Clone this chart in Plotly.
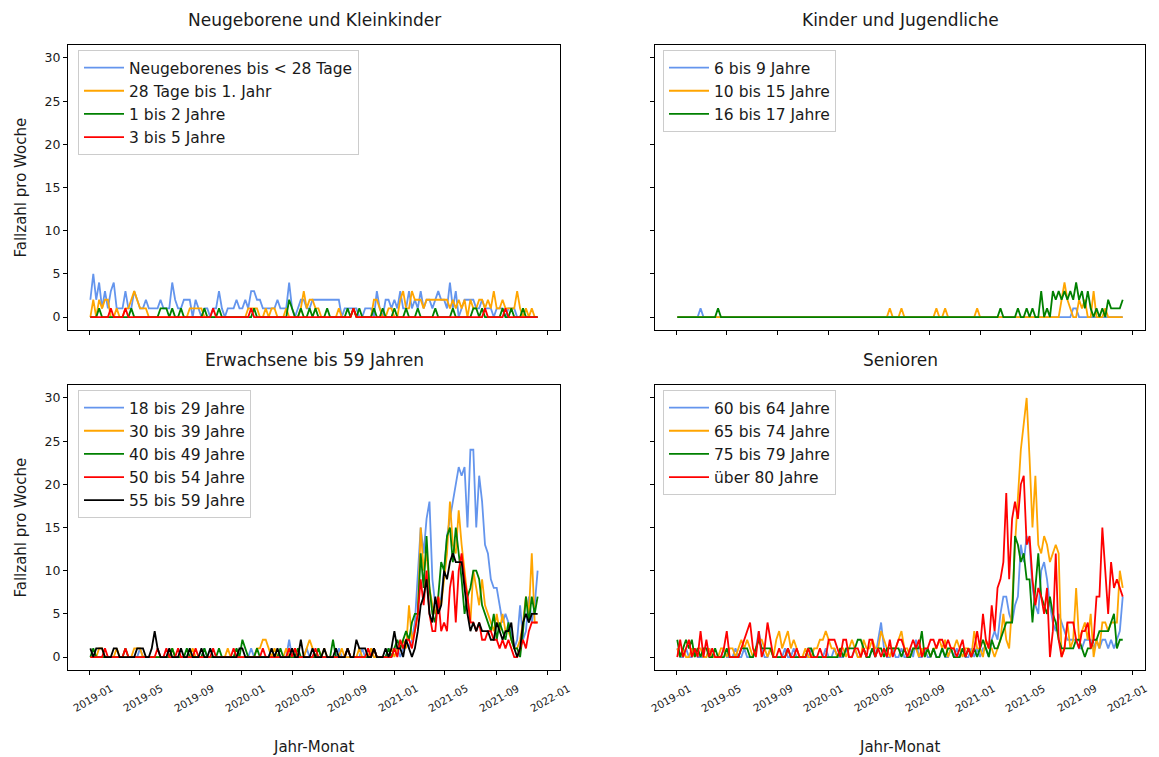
import pandas as pd
import plotly.graph_objects as go

# ---------------- data ----------------
weeks = pd.date_range("2019-01-03", periods=154, freq="7D")

tick_dates = ["2019-01-01", "2019-05-01", "2019-09-01", "2020-01-01", "2020-05-01",
              "2020-09-01", "2021-01-01", "2021-05-01", "2021-09-01", "2022-01-01"]
tick_labels = ["2019-01", "2019-05", "2019-09", "2020-01", "2020-05",
               "2020-09", "2021-01", "2021-05", "2021-09", "2022-01"]
y_ticks = [0, 5, 10, 15, 20, 25, 30]

# Neugeborene und Kleinkinder
neu_lt28 = [2, 5, 2, 4, 1, 3, 1, 3, 4, 1,
            1, 1, 3, 1, 1, 3, 2, 1, 1, 2,
            1, 1, 1, 1, 2, 1, 1, 1, 4, 2,
            1, 1, 2, 2, 2, 0, 2, 1, 0, 1,
            1, 0, 1, 1, 3, 1, 0, 1, 1, 1,
            2, 1, 1, 2, 1, 3, 3, 2, 2, 1,
            1, 1, 1, 1, 2, 1, 1, 1, 4, 1,
            0, 1, 2, 2, 1, 1, 2, 2, 2, 2,
            2, 2, 2, 2, 2, 2, 0, 1, 1, 1,
            1, 1, 0, 0, 1, 1, 1, 0, 3, 1,
            0, 2, 2, 1, 2, 1, 3, 1, 1, 3,
            1, 2, 1, 3, 1, 2, 2, 1, 2, 3,
            2, 2, 1, 4, 1, 3, 0, 1, 2, 2,
            2, 2, 1, 1, 2, 1, 1, 1, 0, 1,
            1, 1, 0, 1, 1, 1, 0, 0, 0, 0,
            0, 0, 0, 0]
neu_28t_1j = [0, 2, 0, 2, 1, 2, 2, 0, 0, 1,
              0, 0, 1, 1, 2, 3, 2, 1, 1, 1,
              0, 0, 0, 0, 0, 0, 0, 0, 0, 0,
              0, 0, 0, 0, 1, 1, 1, 1, 1, 0,
              0, 0, 0, 0, 0, 0, 0, 0, 0, 0,
              0, 0, 0, 0, 1, 1, 1, 1, 0, 0,
              1, 0, 1, 1, 0, 0, 0, 1, 0, 0,
              0, 0, 1, 3, 1, 2, 2, 1, 1, 0,
              0, 0, 0, 0, 0, 1, 0, 0, 0, 0,
              1, 0, 0, 0, 0, 0, 0, 2, 2, 1,
              0, 0, 1, 1, 0, 0, 2, 3, 1, 1,
              3, 2, 2, 2, 1, 2, 2, 2, 2, 2,
              2, 2, 2, 1, 2, 1, 2, 1, 2, 0,
              2, 1, 1, 2, 2, 1, 2, 1, 3, 1,
              1, 2, 1, 1, 1, 1, 3, 1, 0, 1,
              0, 1, 0, 0]
neu_1_2 = [0, 0, 0, 1, 0, 0, 0, 0, 0, 0,
           0, 0, 0, 0, 1, 0, 0, 0, 0, 0,
           0, 0, 0, 0, 1, 1, 1, 0, 1, 0,
           0, 1, 0, 0, 0, 0, 0, 0, 0, 1,
           0, 0, 0, 0, 1, 0, 0, 0, 0, 0,
           0, 0, 0, 0, 0, 0, 1, 0, 0, 0,
           0, 0, 0, 0, 0, 0, 0, 0, 2, 1,
           0, 0, 1, 0, 0, 1, 0, 1, 0, 0,
           0, 1, 0, 0, 0, 0, 0, 0, 1, 0,
           1, 0, 1, 0, 0, 0, 0, 1, 0, 0,
           1, 0, 0, 0, 1, 0, 0, 0, 1, 0,
           0, 0, 1, 0, 0, 0, 0, 0, 1, 0,
           0, 0, 0, 0, 1, 0, 0, 0, 0, 0,
           0, 1, 1, 0, 1, 0, 0, 0, 0, 0,
           0, 1, 0, 0, 1, 0, 0, 0, 1, 0,
           0, 0, 0, 0]
neu_3_5 = [0, 0, 0, 0, 0, 0, 0, 1, 0, 0,
           0, 0, 1, 0, 0, 0, 0, 0, 0, 0,
           0, 0, 0, 0, 0, 0, 0, 0, 0, 0,
           0, 0, 0, 0, 0, 0, 0, 0, 0, 0,
           0, 0, 1, 0, 0, 0, 0, 0, 0, 0,
           0, 0, 0, 0, 0, 1, 0, 0, 0, 0,
           0, 0, 0, 0, 0, 0, 0, 0, 0, 0,
           0, 0, 0, 0, 0, 0, 0, 0, 0, 0,
           0, 0, 0, 0, 0, 0, 0, 0, 0, 0,
           1, 0, 0, 0, 0, 0, 0, 0, 0, 0,
           0, 0, 0, 0, 0, 0, 0, 0, 0, 0,
           0, 0, 0, 0, 0, 0, 0, 0, 0, 0,
           0, 0, 0, 0, 0, 0, 0, 0, 0, 0,
           0, 0, 0, 0, 0, 1, 0, 0, 0, 0,
           0, 0, 1, 0, 0, 0, 0, 0, 0, 0,
           0, 0, 0, 0]

# Kinder und Jugendliche
kin_6_9 = [0, 0, 0, 0, 0, 0, 0, 0, 1, 0,
           0, 0, 0, 0, 0, 0, 0, 0, 0, 0,
           0, 0, 0, 0, 0, 0, 0, 0, 0, 0,
           0, 0, 0, 0, 0, 0, 0, 0, 0, 0,
           0, 0, 0, 0, 0, 0, 0, 0, 0, 0,
           0, 0, 0, 0, 0, 0, 0, 0, 0, 0,
           0, 0, 0, 0, 0, 0, 0, 0, 0, 0,
           0, 0, 0, 0, 0, 0, 0, 0, 0, 0,
           0, 0, 0, 0, 0, 0, 0, 0, 0, 0,
           0, 0, 0, 0, 0, 0, 0, 0, 0, 0,
           0, 0, 0, 0, 0, 0, 0, 0, 0, 0,
           0, 0, 0, 0, 0, 0, 0, 0, 0, 0,
           0, 0, 0, 0, 0, 0, 0, 0, 0, 0,
           0, 0, 0, 0, 0, 0, 1, 1, 0, 0,
           0, 0, 0, 0, 0, 0, 0, 0, 0, 0,
           0, 0, 0, 0]
kin_10_15 = [0, 0, 0, 0, 0, 0, 0, 0, 0, 0,
             0, 0, 0, 0, 0, 0, 0, 0, 0, 0,
             0, 0, 0, 0, 0, 0, 0, 0, 0, 0,
             0, 0, 0, 0, 0, 0, 0, 0, 0, 0,
             0, 0, 0, 0, 0, 0, 0, 0, 0, 0,
             0, 0, 0, 0, 0, 0, 0, 0, 0, 0,
             0, 0, 0, 0, 0, 0, 0, 0, 0, 0,
             0, 0, 0, 1, 0, 0, 0, 1, 0, 0,
             0, 0, 0, 0, 0, 0, 0, 0, 0, 1,
             0, 0, 1, 0, 0, 0, 0, 0, 0, 0,
             0, 0, 0, 1, 0, 0, 0, 0, 0, 0,
             0, 0, 0, 0, 0, 0, 0, 0, 0, 0,
             0, 0, 0, 0, 0, 0, 0, 0, 0, 0,
             0, 0, 2, 4, 2, 1, 0, 0, 2, 1,
             2, 0, 0, 3, 0, 0, 0, 1, 0, 0,
             0, 0, 0, 0]
kin_16_17 = [0, 0, 0, 0, 0, 0, 0, 0, 0, 0,
             0, 0, 0, 0, 1, 0, 0, 0, 0, 0,
             0, 0, 0, 0, 0, 0, 0, 0, 0, 0,
             0, 0, 0, 0, 0, 0, 0, 0, 0, 0,
             0, 0, 0, 0, 0, 0, 0, 0, 0, 0,
             0, 0, 0, 0, 0, 0, 0, 0, 0, 0,
             0, 0, 0, 0, 0, 0, 0, 0, 0, 0,
             0, 0, 0, 0, 0, 0, 0, 0, 0, 0,
             0, 0, 0, 0, 0, 0, 0, 0, 0, 0,
             0, 0, 0, 0, 0, 0, 0, 0, 0, 0,
             0, 0, 0, 0, 0, 0, 0, 0, 0, 0,
             0, 1, 0, 0, 0, 0, 0, 1, 0, 0,
             1, 0, 1, 0, 0, 3, 0, 1, 0, 3,
             2, 3, 2, 3, 2, 3, 2, 4, 2, 3,
             1, 3, 1, 0, 1, 0, 1, 0, 2, 1,
             1, 1, 1, 2]

# Erwachsene bis 59 Jahren (a: 2019 - Nov 2020, b: Dez 2020 - 2021)
erw_18_29_a = [0, 0, 0, 0, 0, 0, 0, 0, 0, 0,
               0, 0, 0, 0, 0, 0, 0, 1, 0, 0,
               0, 0, 0, 0, 0, 0, 0, 0, 0, 0,
               0, 0, 0, 0, 0, 0, 0, 0, 0, 1,
               0, 0, 0, 0, 0, 0, 0, 0, 0, 0,
               0, 0, 0, 0, 0, 1, 0, 0, 0, 0,
               0, 0, 1, 0, 0, 0, 0, 0, 2, 0,
               0, 0, 0, 0, 1, 0, 0, 0, 0, 0,
               0, 0, 0, 0, 0, 1, 0, 0, 0, 0,
               0, 0, 0, 1, 0, 0, 0, 1, 0, 0,
               0]
erw_18_29_b = [0, 1, 0, 1, 1, 0, 1, 2, 1, 2,
               4, 10, 15, 12, 16, 18, 9, 6, 5, 7,
               10, 14, 16, 18, 20, 22, 21, 22, 15, 24,
               24, 15, 21, 18, 13, 12, 9, 8, 8, 6,
               4, 5, 4, 3, 1, 2, 6, 2, 3, 7,
               4, 6, 10]
erw_30_39_a = [0, 0, 0, 1, 1, 0, 0, 0, 0, 1,
               0, 0, 0, 0, 0, 1, 1, 1, 0, 0,
               0, 0, 0, 0, 0, 0, 0, 0, 1, 0,
               0, 0, 0, 0, 0, 1, 0, 0, 0, 0,
               0, 0, 0, 0, 0, 0, 0, 1, 0, 0,
               0, 0, 0, 0, 0, 0, 0, 1, 1, 2,
               2, 1, 0, 1, 0, 0, 0, 1, 0, 0,
               1, 0, 0, 0, 1, 2, 1, 0, 1, 0,
               1, 0, 0, 0, 0, 0, 1, 0, 0, 0,
               0, 0, 1, 0, 0, 0, 1, 0, 0, 0,
               0]
erw_30_39_b = [0, 0, 1, 0, 1, 1, 2, 1, 6, 2,
               3, 5, 15, 10, 12, 8, 6, 5, 7, 6,
               9, 12, 18, 13, 12, 17, 13, 10, 7, 4,
               10, 8, 6, 9, 6, 5, 4, 3, 5, 3,
               5, 3, 3, 2, 1, 1, 2, 4, 7, 5,
               12, 4, 4]
erw_40_49_a = [0, 1, 0, 0, 0, 0, 0, 0, 0, 0,
               0, 0, 1, 0, 0, 0, 0, 0, 0, 0,
               0, 0, 0, 0, 0, 0, 0, 0, 1, 0,
               0, 0, 0, 1, 0, 0, 0, 0, 0, 1,
               0, 0, 0, 0, 1, 0, 0, 0, 0, 0,
               1, 0, 2, 1, 0, 0, 0, 1, 0, 0,
               0, 0, 0, 0, 0, 1, 0, 0, 0, 0,
               0, 1, 0, 0, 0, 0, 0, 0, 1, 0,
               0, 0, 0, 2, 0, 0, 0, 0, 1, 0,
               0, 0, 0, 0, 0, 0, 0, 1, 0, 0,
               0]
erw_40_49_b = [0, 1, 0, 1, 2, 1, 2, 3, 2, 4,
               5, 5, 12, 8, 14, 8, 5, 4, 7, 11,
               10, 14, 15, 11, 15, 12, 9, 5, 7, 8,
               10, 10, 9, 6, 5, 4, 3, 5, 2, 4,
               3, 2, 4, 2, 1, 1, 0, 3, 7, 4,
               7, 5, 7]
erw_50_54_a = [0, 0, 0, 0, 0, 1, 0, 0, 0, 0,
               0, 0, 1, 0, 0, 0, 0, 0, 0, 0,
               0, 0, 0, 1, 0, 0, 1, 0, 0, 0,
               1, 0, 0, 0, 0, 0, 1, 0, 0, 0,
               0, 0, 1, 0, 0, 0, 0, 0, 0, 1,
               0, 0, 0, 0, 0, 0, 0, 0, 0, 1,
               0, 0, 0, 0, 0, 0, 0, 0, 1, 0,
               1, 0, 0, 0, 0, 0, 0, 1, 0, 0,
               0, 0, 0, 0, 0, 0, 0, 0, 1, 0,
               0, 0, 0, 0, 0, 1, 0, 1, 0, 0,
               0]
erw_50_54_b = [0, 0, 0, 1, 0, 2, 1, 2, 2, 1,
               3, 5, 9, 6, 10, 5, 3, 3, 7, 3,
               4, 3, 8, 10, 4, 10, 12, 9, 7, 4,
               4, 3, 4, 2, 2, 3, 3, 2, 2, 1,
               2, 1, 2, 1, 0, 0, 1, 2, 1, 3,
               4, 4, 4]
erw_55_59_a = [1, 0, 1, 1, 1, 0, 0, 0, 1, 1,
               0, 0, 0, 0, 0, 0, 1, 1, 1, 0,
               0, 1, 3, 1, 0, 0, 0, 1, 0, 0,
               0, 1, 0, 0, 1, 0, 0, 0, 1, 0,
               0, 1, 0, 0, 0, 0, 0, 0, 0, 0,
               0, 1, 1, 0, 0, 0, 0, 0, 0, 0,
               0, 0, 1, 0, 1, 0, 0, 0, 0, 1,
               0, 0, 2, 0, 0, 0, 1, 0, 0, 0,
               1, 0, 0, 0, 1, 0, 0, 0, 1, 0,
               0, 2, 1, 1, 1, 0, 0, 1, 0, 0,
               0]
erw_55_59_b = [1, 0, 1, 3, 1, 1, 0, 2, 1, 0,
               1, 3, 6, 7, 9, 5, 4, 7, 5, 6,
               10, 9, 11, 12, 11, 11, 11, 8, 5, 3,
               4, 3, 4, 3, 3, 3, 2, 2, 4, 3,
               2, 3, 3, 4, 1, 0, 1, 4, 5, 4,
               5, 5, 5]

# Senioren (a: 2019 - Okt 2020, b: Nov 2020 - 2021)
sen_60_64_a = [1, 0, 0, 1, 0, 0, 1, 0, 0, 0,
               0, 1, 0, 0, 0, 0, 1, 0, 0, 0,
               1, 0, 0, 1, 0, 0, 0, 1, 3, 1,
               0, 0, 1, 0, 0, 0, 0, 1, 0, 0,
               1, 0, 0, 0, 0, 0, 1, 0, 0, 0,
               0, 1, 0, 0, 1, 0, 0, 0, 1, 0,
               0, 1, 0, 0, 1, 0, 0, 1, 0, 2,
               4, 1, 0, 0, 1, 0, 0, 1, 0, 0,
               1, 0, 2, 0, 0, 1, 0, 0, 1, 0,
               0, 1, 0, 0, 1, 0, 1]
sen_60_64_b = [0, 1, 0, 0, 1, 0, 1, 0, 1, 1,
               0, 2, 3, 2, 5, 7, 7, 5, 4, 6,
               7, 13, 11, 14, 13, 8, 6, 5, 10, 11,
               9, 6, 4, 3, 5, 4, 3, 2, 2, 2,
               2, 1, 1, 2, 2, 2, 1, 2, 1, 2,
               2, 1, 2, 1, 2, 3, 7]
sen_65_74_a = [1, 0, 1, 0, 0, 1, 0, 1, 1, 0,
               0, 1, 0, 0, 0, 1, 1, 0, 1, 1,
               0, 1, 2, 1, 2, 1, 0, 1, 2, 2,
               1, 0, 1, 0, 2, 3, 1, 2, 3, 1,
               2, 1, 0, 0, 1, 0, 0, 1, 1, 2,
               2, 3, 2, 1, 1, 0, 1, 1, 0, 1,
               2, 1, 0, 0, 2, 1, 1, 2, 1, 1,
               3, 2, 1, 0, 1, 1, 2, 3, 1, 1,
               0, 1, 1, 0, 1, 0, 1, 0, 1, 1,
               2, 1, 2, 0, 1, 1, 2]
sen_65_74_b = [1, 0, 1, 1, 0, 3, 1, 1, 0, 2,
               1, 1, 0, 1, 2, 5, 2, 1, 6, 13,
               19, 24, 27, 30, 23, 15, 21, 13, 12, 14,
               13, 11, 12, 13, 12, 0, 1, 4, 1, 2,
               8, 2, 3, 4, 2, 5, 0, 2, 1, 4,
               4, 3, 4, 4, 4, 10, 8]
sen_75_79_a = [2, 0, 1, 2, 1, 2, 0, 1, 0, 1,
               1, 0, 0, 1, 0, 0, 0, 1, 0, 0,
               0, 0, 1, 1, 1, 0, 0, 1, 2, 1,
               1, 1, 1, 0, 0, 0, 0, 0, 1, 0,
               0, 0, 0, 0, 0, 1, 1, 0, 0, 0,
               0, 0, 0, 0, 0, 0, 1, 0, 1, 1,
               1, 1, 2, 2, 1, 0, 0, 1, 0, 1,
               1, 0, 1, 1, 1, 1, 1, 0, 1, 0,
               0, 1, 1, 1, 3, 0, 1, 0, 1, 0,
               0, 1, 0, 1, 1, 0, 0]
sen_75_79_b = [0, 1, 0, 1, 0, 1, 0, 1, 2, 1,
               0, 2, 1, 1, 2, 3, 4, 4, 4, 14,
               13, 11, 12, 9, 9, 4, 8, 12, 7, 6,
               5, 7, 5, 4, 2, 1, 1, 1, 1, 1,
               2, 2, 1, 0, 1, 1, 2, 2, 3, 3,
               3, 3, 4, 5, 1, 2, 2]
sen_ueber80_a = [0, 2, 0, 1, 2, 0, 1, 0, 3, 0,
                 2, 0, 1, 0, 0, 0, 1, 3, 0, 0,
                 0, 0, 1, 2, 3, 4, 1, 0, 3, 0,
                 1, 4, 2, 0, 0, 1, 0, 0, 1, 0,
                 0, 1, 0, 0, 0, 1, 0, 0, 0, 1,
                 0, 0, 2, 2, 2, 1, 0, 2, 2, 0,
                 0, 1, 1, 0, 1, 0, 2, 2, 0, 1,
                 0, 1, 0, 2, 0, 1, 2, 2, 1, 0,
                 1, 2, 1, 2, 0, 1, 1, 2, 2, 1,
                 2, 2, 1, 2, 1, 1, 0]
sen_ueber80_b = [1, 2, 0, 1, 0, 1, 3, 1, 5, 2,
                 1, 6, 3, 8, 9, 11, 19, 9, 16, 18,
                 16, 20, 21, 13, 14, 9, 6, 8, 7, 5,
                 8, 0, 3, 12, 2, 0, 1, 4, 4, 4,
                 2, 1, 3, 3, 4, 1, 2, 7, 7, 15,
                 10, 5, 11, 8, 9, 8, 7]

titles = ["Neugeborene und Kleinkinder", "Kinder und Jugendliche",
          "Erwachsene bis 59 Jahren", "Senioren"]

panels = [
    [("Neugeborenes bis < 28 Tage", neu_lt28, "cornflowerblue"),
     ("28 Tage bis 1. Jahr", neu_28t_1j, "orange"),
     ("1 bis 2 Jahre", neu_1_2, "green"),
     ("3 bis 5 Jahre", neu_3_5, "red")],
    [("6 bis 9 Jahre", kin_6_9, "cornflowerblue"),
     ("10 bis 15 Jahre", kin_10_15, "orange"),
     ("16 bis 17 Jahre", kin_16_17, "green")],
    [("18 bis 29 Jahre", erw_18_29_a + erw_18_29_b, "cornflowerblue"),
     ("30 bis 39 Jahre", erw_30_39_a + erw_30_39_b, "orange"),
     ("40 bis 49 Jahre", erw_40_49_a + erw_40_49_b, "green"),
     ("50 bis 54 Jahre", erw_50_54_a + erw_50_54_b, "red"),
     ("55 bis 59 Jahre", erw_55_59_a + erw_55_59_b, "black")],
    [("60 bis 64 Jahre", sen_60_64_a + sen_60_64_b, "cornflowerblue"),
     ("65 bis 74 Jahre", sen_65_74_a + sen_65_74_b, "orange"),
     ("75 bis 79 Jahre", sen_75_79_a + sen_75_79_b, "green"),
     ("über 80 Jahre", sen_ueber80_a + sen_ueber80_b, "red")],
]

for p in panels:
    for name, vals, _ in p:
        assert len(vals) == len(weeks), (name, len(vals))

# ---------------- figure ----------------
OFF = 8  # page body margin of the browser
W, H = 1159 - OFF, 757 - OFF  # figure fills the rest of the 1159x757 window
FONT = "DejaVu Sans"
TXT = "#1a1a1a"


def px(x):
    return (x - OFF) / W


def py(y):
    return 1 - (y - OFF) / H


xdom = [[px(68), px(560)], [px(655), px(1145)]]
ydom = [[py(330), py(45)], [py(670), py(385)]]

fig = go.Figure()
suffix = ["", "2", "3", "4"]
for k, p in enumerate(panels):
    for name, vals, color in p:
        fig.add_trace(go.Scatter(
            x=weeks, y=vals, mode="lines", name=name,
            line=dict(color=color, width=1.8),
            xaxis="x" + suffix[k], yaxis="y" + suffix[k],
            legend="legend" + suffix[k], legendgroup=name,
            hoverinfo="skip",
        ))

span = weeks[-1] - weeks[0]
xr = [weeks[0] - 0.05 * span, weeks[-1] + 0.05 * span]

layout = dict(
    width=W, height=H, template="none",
    margin=dict(l=0, r=0, t=0, b=0),
    paper_bgcolor="white", plot_bgcolor="white",
    font=dict(family=FONT, color=TXT, size=13),
    showlegend=True,
)

for k in range(4):
    col, row = k % 2, k // 2
    s = suffix[k]
    layout["xaxis" + s] = dict(
        domain=xdom[col], anchor="y" + s, type="date", range=xr,
        tickmode="array", tickvals=tick_dates, ticktext=tick_labels,
        showticklabels=False,
        ticks="outside", ticklen=4, tickwidth=1, tickcolor="black",
        showline=True, mirror=True, linecolor="black", linewidth=1,
        showgrid=False, zeroline=False, automargin=False,
    )
    layout["yaxis" + s] = dict(
        domain=ydom[row], anchor="x" + s, range=[-1.5, 31.5],
        tickmode="array", tickvals=y_ticks,
        showticklabels=(col == 0),
        tickfont=dict(size=12.5, family=FONT, color=TXT),
        ticks="outside", ticklen=4, tickwidth=1, tickcolor="black",
        showline=True, mirror=True, linecolor="black", linewidth=1,
        showgrid=False, zeroline=False, automargin=False,
    )
    lx = px(78) if col == 0 else px(663)
    ly = py(50) if row == 0 else py(390)
    layout["legend" + s] = dict(
        x=lx, y=ly, xanchor="left", yanchor="top",
        bgcolor="rgba(255,255,255,0.85)", bordercolor="#cccccc", borderwidth=1,
        font=dict(size=15.5, family=FONT, color=TXT),
        tracegroupgap=0, itemwidth=40,
        itemclick=False, itemdoubleclick=False,
    )

fig.update_layout(**layout)

ann = []
for k, t in enumerate(titles):
    col, row = k % 2, k // 2
    ann.append(dict(text=t, x=(xdom[col][0] + xdom[col][1]) / 2,
                    y=py(20) if row == 0 else py(360),
                    xref="paper", yref="paper", showarrow=False,
                    xanchor="center", yanchor="middle",
                    font=dict(size=17, family=FONT, color=TXT)))
for row in range(2):
    ann.append(dict(text="Fallzahl pro Woche", x=px(20),
                    y=(ydom[row][0] + ydom[row][1]) / 2,
                    xref="paper", yref="paper", showarrow=False, textangle=-90,
                    xanchor="center", yanchor="middle",
                    font=dict(size=15, family=FONT, color=TXT)))
for col in range(2):
    ann.append(dict(text="Jahr-Monat", x=(xdom[col][0] + xdom[col][1]) / 2,
                    y=py(747), xref="paper", yref="paper", showarrow=False,
                    xanchor="center", yanchor="middle",
                    font=dict(size=15, family=FONT, color=TXT)))
# rotated date tick labels of the bottom panels
for col, xa, sh in ((0, "x3", 3), (1, "x4", -5)):
    for d, lab in zip(tick_dates, tick_labels):
        ann.append(dict(text=lab, x=d, xref=xa, y=py(698), yref="paper",
                        showarrow=False, textangle=-30, xshift=sh,
                        xanchor="center", yanchor="middle",
                        font=dict(size=10.5, family=FONT, color=TXT)))
fig.update_layout(annotations=ann)

fig.write_html("out.html")
